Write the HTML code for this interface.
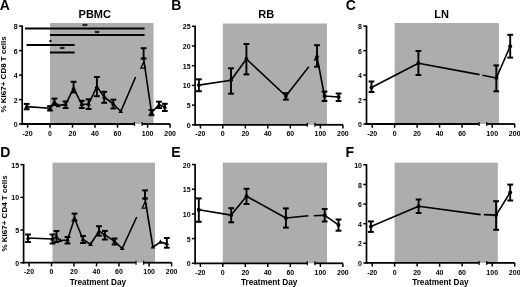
<!DOCTYPE html>
<html><head><meta charset="utf-8"><style>
html,body{margin:0;padding:0;background:#fff;}
body{width:520px;height:287px;overflow:hidden;}
svg{display:block;font-family:"Liberation Sans", sans-serif;will-change:transform;}
</style></head><body>
<svg width="520" height="287" viewBox="0 0 520 287">
<rect x="50.00" y="23.00" width="103.50" height="101.00" fill="#adadad"/>
<line x1="22.20" y1="25.50" x2="22.20" y2="124.90" stroke="#000" stroke-width="1.7"/>
<line x1="19.00" y1="124.00" x2="22.20" y2="124.00" stroke="#000" stroke-width="1.5"/>
<text x="17.70" y="127.00" font-size="7" text-anchor="end" font-weight="bold" >0</text>
<line x1="19.00" y1="99.60" x2="22.20" y2="99.60" stroke="#000" stroke-width="1.5"/>
<text x="17.70" y="102.60" font-size="7" text-anchor="end" font-weight="bold" >2</text>
<line x1="19.00" y1="75.10" x2="22.20" y2="75.10" stroke="#000" stroke-width="1.5"/>
<text x="17.70" y="78.10" font-size="7" text-anchor="end" font-weight="bold" >4</text>
<line x1="19.00" y1="50.60" x2="22.20" y2="50.60" stroke="#000" stroke-width="1.5"/>
<text x="17.70" y="53.60" font-size="7" text-anchor="end" font-weight="bold" >6</text>
<line x1="19.00" y1="26.10" x2="22.20" y2="26.10" stroke="#000" stroke-width="1.5"/>
<text x="17.70" y="29.10" font-size="7" text-anchor="end" font-weight="bold" >8</text>
<line x1="21.35" y1="124.00" x2="134.50" y2="124.00" stroke="#000" stroke-width="1.8"/>
<line x1="142.10" y1="124.00" x2="170.20" y2="124.00" stroke="#000" stroke-width="1.8"/>
<line x1="134.50" y1="122.00" x2="134.50" y2="126.00" stroke="#000" stroke-width="1.2"/>
<line x1="142.10" y1="122.00" x2="142.10" y2="126.00" stroke="#000" stroke-width="1.2"/>
<line x1="27.60" y1="124.00" x2="27.60" y2="127.70" stroke="#000" stroke-width="1.5"/>
<text x="27.60" y="135.60" font-size="7" text-anchor="middle" font-weight="bold" >-20</text>
<line x1="50.00" y1="124.00" x2="50.00" y2="127.70" stroke="#000" stroke-width="1.5"/>
<text x="50.00" y="135.60" font-size="7" text-anchor="middle" font-weight="bold" >0</text>
<line x1="72.50" y1="124.00" x2="72.50" y2="127.70" stroke="#000" stroke-width="1.5"/>
<text x="72.50" y="135.60" font-size="7" text-anchor="middle" font-weight="bold" >20</text>
<line x1="95.00" y1="124.00" x2="95.00" y2="127.70" stroke="#000" stroke-width="1.5"/>
<text x="95.00" y="135.60" font-size="7" text-anchor="middle" font-weight="bold" >40</text>
<line x1="117.50" y1="124.00" x2="117.50" y2="127.70" stroke="#000" stroke-width="1.5"/>
<text x="117.50" y="135.60" font-size="7" text-anchor="middle" font-weight="bold" >60</text>
<line x1="147.60" y1="124.00" x2="147.60" y2="127.70" stroke="#000" stroke-width="1.5"/>
<text x="147.60" y="135.60" font-size="7" text-anchor="middle" font-weight="bold" >100</text>
<line x1="170.10" y1="124.00" x2="170.10" y2="127.70" stroke="#000" stroke-width="1.5"/>
<text x="170.10" y="135.60" font-size="7" text-anchor="middle" font-weight="bold" >200</text>
<path d="M26.70,106.60 L50.00,108.30 L54.40,102.00 L58.00,105.60 L65.60,104.40 L73.60,88.30 L81.80,104.40 L88.60,104.00 L96.90,86.60 L104.20,97.00 L113.30,104.00 L120.80,111.50 L135.60,77.00" fill="none" stroke="#000" stroke-width="1.6" stroke-linejoin="round"/>
<path d="M143.60,58.60 L151.50,112.50 L159.00,104.80 L164.80,107.00" fill="none" stroke="#000" stroke-width="1.6" stroke-linejoin="round"/>
<line x1="26.70" y1="103.90" x2="26.70" y2="109.30" stroke="#000" stroke-width="1.9"/>
<line x1="23.80" y1="103.90" x2="29.60" y2="103.90" stroke="#000" stroke-width="2.0"/>
<line x1="23.80" y1="109.30" x2="29.60" y2="109.30" stroke="#000" stroke-width="2.0"/>
<path d="M26.70,104.00 L29.10,108.20 L24.30,108.20Z" fill="#000"/>
<line x1="50.00" y1="106.20" x2="50.00" y2="110.50" stroke="#000" stroke-width="1.9"/>
<line x1="47.10" y1="106.20" x2="52.90" y2="106.20" stroke="#000" stroke-width="2.0"/>
<line x1="47.10" y1="110.50" x2="52.90" y2="110.50" stroke="#000" stroke-width="2.0"/>
<path d="M50.00,105.70 L52.40,109.90 L47.60,109.90Z" fill="#000"/>
<line x1="54.40" y1="98.60" x2="54.40" y2="105.00" stroke="#000" stroke-width="1.9"/>
<line x1="51.50" y1="98.60" x2="57.30" y2="98.60" stroke="#000" stroke-width="2.0"/>
<line x1="51.50" y1="105.00" x2="57.30" y2="105.00" stroke="#000" stroke-width="2.0"/>
<path d="M54.40,99.40 L56.80,103.60 L52.00,103.60Z" fill="#000"/>
<path d="M58.00,103.00 L60.40,107.20 L55.60,107.20Z" fill="#000"/>
<line x1="65.60" y1="101.40" x2="65.60" y2="108.00" stroke="#000" stroke-width="1.9"/>
<line x1="62.70" y1="101.40" x2="68.50" y2="101.40" stroke="#000" stroke-width="2.0"/>
<line x1="62.70" y1="108.00" x2="68.50" y2="108.00" stroke="#000" stroke-width="2.0"/>
<path d="M65.60,101.80 L68.00,106.00 L63.20,106.00Z" fill="#000"/>
<line x1="73.60" y1="81.80" x2="73.60" y2="92.40" stroke="#000" stroke-width="1.9"/>
<line x1="70.70" y1="81.80" x2="76.50" y2="81.80" stroke="#000" stroke-width="2.0"/>
<line x1="70.70" y1="92.40" x2="76.50" y2="92.40" stroke="#000" stroke-width="2.0"/>
<path d="M73.60,85.70 L76.00,89.90 L71.20,89.90Z" fill="#000"/>
<line x1="81.80" y1="100.80" x2="81.80" y2="108.00" stroke="#000" stroke-width="1.9"/>
<line x1="78.90" y1="100.80" x2="84.70" y2="100.80" stroke="#000" stroke-width="2.0"/>
<line x1="78.90" y1="108.00" x2="84.70" y2="108.00" stroke="#000" stroke-width="2.0"/>
<path d="M81.80,101.80 L84.20,106.00 L79.40,106.00Z" fill="#000"/>
<line x1="88.60" y1="99.30" x2="88.60" y2="109.00" stroke="#000" stroke-width="1.9"/>
<line x1="85.70" y1="99.30" x2="91.50" y2="99.30" stroke="#000" stroke-width="2.0"/>
<line x1="85.70" y1="109.00" x2="91.50" y2="109.00" stroke="#000" stroke-width="2.0"/>
<path d="M88.60,101.40 L91.00,105.60 L86.20,105.60Z" fill="#000"/>
<line x1="96.90" y1="77.00" x2="96.90" y2="96.20" stroke="#000" stroke-width="1.9"/>
<line x1="94.00" y1="77.00" x2="99.80" y2="77.00" stroke="#000" stroke-width="2.0"/>
<line x1="94.00" y1="96.20" x2="99.80" y2="96.20" stroke="#000" stroke-width="2.0"/>
<path d="M96.90,84.00 L99.30,88.20 L94.50,88.20Z" fill="#000"/>
<line x1="104.20" y1="91.80" x2="104.20" y2="102.80" stroke="#000" stroke-width="1.9"/>
<line x1="101.30" y1="91.80" x2="107.10" y2="91.80" stroke="#000" stroke-width="2.0"/>
<line x1="101.30" y1="102.80" x2="107.10" y2="102.80" stroke="#000" stroke-width="2.0"/>
<path d="M104.20,94.40 L106.60,98.60 L101.80,98.60Z" fill="#000"/>
<line x1="113.30" y1="99.70" x2="113.30" y2="108.40" stroke="#000" stroke-width="1.9"/>
<line x1="110.40" y1="99.70" x2="116.20" y2="99.70" stroke="#000" stroke-width="2.0"/>
<line x1="110.40" y1="108.40" x2="116.20" y2="108.40" stroke="#000" stroke-width="2.0"/>
<path d="M113.30,101.40 L115.70,105.60 L110.90,105.60Z" fill="#000"/>
<path d="M120.80,108.90 L123.20,113.10 L118.40,113.10Z" fill="#000"/>
<line x1="143.60" y1="48.20" x2="143.60" y2="58.60" stroke="#000" stroke-width="1.9"/>
<line x1="140.70" y1="48.20" x2="146.50" y2="48.20" stroke="#000" stroke-width="2.0"/>
<line x1="140.70" y1="58.60" x2="146.50" y2="58.60" stroke="#000" stroke-width="2.0"/>
<circle cx="143.60" cy="58.60" r="1.8" fill="#000"/>
<path d="M143.60,62.20 L145.40,68.20 L140.80,68.20Z" fill="none" stroke="#000" stroke-width="1.3"/>
<line x1="151.50" y1="110.00" x2="151.50" y2="115.20" stroke="#000" stroke-width="1.9"/>
<line x1="148.60" y1="110.00" x2="154.40" y2="110.00" stroke="#000" stroke-width="2.0"/>
<line x1="148.60" y1="115.20" x2="154.40" y2="115.20" stroke="#000" stroke-width="2.0"/>
<path d="M151.50,109.90 L153.90,114.10 L149.10,114.10Z" fill="#000"/>
<line x1="159.00" y1="101.70" x2="159.00" y2="108.00" stroke="#000" stroke-width="1.9"/>
<line x1="156.10" y1="101.70" x2="161.90" y2="101.70" stroke="#000" stroke-width="2.0"/>
<line x1="156.10" y1="108.00" x2="161.90" y2="108.00" stroke="#000" stroke-width="2.0"/>
<path d="M159.00,102.20 L161.40,106.40 L156.60,106.40Z" fill="#000"/>
<line x1="164.80" y1="103.80" x2="164.80" y2="111.00" stroke="#000" stroke-width="1.9"/>
<line x1="161.90" y1="103.80" x2="167.70" y2="103.80" stroke="#000" stroke-width="2.0"/>
<line x1="161.90" y1="111.00" x2="167.70" y2="111.00" stroke="#000" stroke-width="2.0"/>
<path d="M164.80,104.40 L167.20,108.60 L162.40,108.60Z" fill="#000"/>
<rect x="222.80" y="23.50" width="104.10" height="101.30" fill="#adadad"/>
<line x1="195.10" y1="25.70" x2="195.10" y2="125.70" stroke="#000" stroke-width="1.7"/>
<line x1="191.90" y1="124.80" x2="195.10" y2="124.80" stroke="#000" stroke-width="1.5"/>
<text x="190.60" y="127.80" font-size="7" text-anchor="end" font-weight="bold" >0</text>
<line x1="191.90" y1="105.10" x2="195.10" y2="105.10" stroke="#000" stroke-width="1.5"/>
<text x="190.60" y="108.10" font-size="7" text-anchor="end" font-weight="bold" >5</text>
<line x1="191.90" y1="85.40" x2="195.10" y2="85.40" stroke="#000" stroke-width="1.5"/>
<text x="190.60" y="88.40" font-size="7" text-anchor="end" font-weight="bold" >10</text>
<line x1="191.90" y1="65.70" x2="195.10" y2="65.70" stroke="#000" stroke-width="1.5"/>
<text x="190.60" y="68.70" font-size="7" text-anchor="end" font-weight="bold" >15</text>
<line x1="191.90" y1="46.00" x2="195.10" y2="46.00" stroke="#000" stroke-width="1.5"/>
<text x="190.60" y="49.00" font-size="7" text-anchor="end" font-weight="bold" >20</text>
<line x1="191.90" y1="26.30" x2="195.10" y2="26.30" stroke="#000" stroke-width="1.5"/>
<text x="190.60" y="29.30" font-size="7" text-anchor="end" font-weight="bold" >25</text>
<line x1="194.25" y1="124.80" x2="307.30" y2="124.80" stroke="#000" stroke-width="1.8"/>
<line x1="314.90" y1="124.80" x2="343.00" y2="124.80" stroke="#000" stroke-width="1.8"/>
<line x1="307.30" y1="122.80" x2="307.30" y2="126.80" stroke="#000" stroke-width="1.2"/>
<line x1="314.90" y1="122.80" x2="314.90" y2="126.80" stroke="#000" stroke-width="1.2"/>
<line x1="200.40" y1="124.80" x2="200.40" y2="128.50" stroke="#000" stroke-width="1.5"/>
<text x="200.40" y="136.40" font-size="7" text-anchor="middle" font-weight="bold" >-20</text>
<line x1="222.80" y1="124.80" x2="222.80" y2="128.50" stroke="#000" stroke-width="1.5"/>
<text x="222.80" y="136.40" font-size="7" text-anchor="middle" font-weight="bold" >0</text>
<line x1="245.30" y1="124.80" x2="245.30" y2="128.50" stroke="#000" stroke-width="1.5"/>
<text x="245.30" y="136.40" font-size="7" text-anchor="middle" font-weight="bold" >20</text>
<line x1="267.80" y1="124.80" x2="267.80" y2="128.50" stroke="#000" stroke-width="1.5"/>
<text x="267.80" y="136.40" font-size="7" text-anchor="middle" font-weight="bold" >40</text>
<line x1="290.30" y1="124.80" x2="290.30" y2="128.50" stroke="#000" stroke-width="1.5"/>
<text x="290.30" y="136.40" font-size="7" text-anchor="middle" font-weight="bold" >60</text>
<line x1="320.40" y1="124.80" x2="320.40" y2="128.50" stroke="#000" stroke-width="1.5"/>
<text x="320.40" y="136.40" font-size="7" text-anchor="middle" font-weight="bold" >100</text>
<line x1="342.90" y1="124.80" x2="342.90" y2="128.50" stroke="#000" stroke-width="1.5"/>
<text x="342.90" y="136.40" font-size="7" text-anchor="middle" font-weight="bold" >200</text>
<path d="M198.90,85.10 L231.00,80.20 L246.40,59.00 L285.90,96.00 L308.80,66.70" fill="none" stroke="#000" stroke-width="1.6" stroke-linejoin="round"/>
<path d="M314.30,60.50 L317.00,57.00 L324.50,96.00 L338.60,97.00" fill="none" stroke="#000" stroke-width="1.6" stroke-linejoin="round"/>
<line x1="198.90" y1="79.30" x2="198.90" y2="91.20" stroke="#000" stroke-width="1.9"/>
<line x1="196.00" y1="79.30" x2="201.80" y2="79.30" stroke="#000" stroke-width="2.0"/>
<line x1="196.00" y1="91.20" x2="201.80" y2="91.20" stroke="#000" stroke-width="2.0"/>
<circle cx="198.90" cy="85.10" r="1.95" fill="#000"/>
<line x1="231.00" y1="68.30" x2="231.00" y2="93.70" stroke="#000" stroke-width="1.9"/>
<line x1="228.10" y1="68.30" x2="233.90" y2="68.30" stroke="#000" stroke-width="2.0"/>
<line x1="228.10" y1="93.70" x2="233.90" y2="93.70" stroke="#000" stroke-width="2.0"/>
<circle cx="231.00" cy="80.20" r="1.95" fill="#000"/>
<line x1="246.40" y1="44.00" x2="246.40" y2="74.40" stroke="#000" stroke-width="1.9"/>
<line x1="243.50" y1="44.00" x2="249.30" y2="44.00" stroke="#000" stroke-width="2.0"/>
<line x1="243.50" y1="74.40" x2="249.30" y2="74.40" stroke="#000" stroke-width="2.0"/>
<circle cx="246.40" cy="59.00" r="1.95" fill="#000"/>
<line x1="285.90" y1="93.20" x2="285.90" y2="99.60" stroke="#000" stroke-width="1.9"/>
<line x1="283.00" y1="93.20" x2="288.80" y2="93.20" stroke="#000" stroke-width="2.0"/>
<line x1="283.00" y1="99.60" x2="288.80" y2="99.60" stroke="#000" stroke-width="2.0"/>
<circle cx="285.90" cy="96.00" r="1.95" fill="#000"/>
<line x1="317.00" y1="45.20" x2="317.00" y2="66.70" stroke="#000" stroke-width="1.9"/>
<line x1="314.10" y1="45.20" x2="319.90" y2="45.20" stroke="#000" stroke-width="2.0"/>
<line x1="314.10" y1="66.70" x2="319.90" y2="66.70" stroke="#000" stroke-width="2.0"/>
<circle cx="317.00" cy="57.00" r="1.95" fill="#000"/>
<line x1="324.50" y1="91.60" x2="324.50" y2="101.00" stroke="#000" stroke-width="1.9"/>
<line x1="321.60" y1="91.60" x2="327.40" y2="91.60" stroke="#000" stroke-width="2.0"/>
<line x1="321.60" y1="101.00" x2="327.40" y2="101.00" stroke="#000" stroke-width="2.0"/>
<circle cx="324.50" cy="96.00" r="1.95" fill="#000"/>
<line x1="338.60" y1="93.50" x2="338.60" y2="101.00" stroke="#000" stroke-width="1.9"/>
<line x1="335.70" y1="93.50" x2="341.50" y2="93.50" stroke="#000" stroke-width="2.0"/>
<line x1="335.70" y1="101.00" x2="341.50" y2="101.00" stroke="#000" stroke-width="2.0"/>
<circle cx="338.60" cy="97.00" r="1.95" fill="#000"/>
<rect x="394.60" y="23.00" width="104.30" height="101.00" fill="#adadad"/>
<line x1="366.50" y1="25.50" x2="366.50" y2="124.90" stroke="#000" stroke-width="1.7"/>
<line x1="363.30" y1="124.00" x2="366.50" y2="124.00" stroke="#000" stroke-width="1.5"/>
<text x="362.00" y="127.00" font-size="7" text-anchor="end" font-weight="bold" >0</text>
<line x1="363.30" y1="99.60" x2="366.50" y2="99.60" stroke="#000" stroke-width="1.5"/>
<text x="362.00" y="102.60" font-size="7" text-anchor="end" font-weight="bold" >2</text>
<line x1="363.30" y1="75.10" x2="366.50" y2="75.10" stroke="#000" stroke-width="1.5"/>
<text x="362.00" y="78.10" font-size="7" text-anchor="end" font-weight="bold" >4</text>
<line x1="363.30" y1="50.60" x2="366.50" y2="50.60" stroke="#000" stroke-width="1.5"/>
<text x="362.00" y="53.60" font-size="7" text-anchor="end" font-weight="bold" >6</text>
<line x1="363.30" y1="26.10" x2="366.50" y2="26.10" stroke="#000" stroke-width="1.5"/>
<text x="362.00" y="29.10" font-size="7" text-anchor="end" font-weight="bold" >8</text>
<line x1="365.65" y1="124.00" x2="479.10" y2="124.00" stroke="#000" stroke-width="1.8"/>
<line x1="486.70" y1="124.00" x2="514.80" y2="124.00" stroke="#000" stroke-width="1.8"/>
<line x1="479.10" y1="122.00" x2="479.10" y2="126.00" stroke="#000" stroke-width="1.2"/>
<line x1="486.70" y1="122.00" x2="486.70" y2="126.00" stroke="#000" stroke-width="1.2"/>
<line x1="372.20" y1="124.00" x2="372.20" y2="127.70" stroke="#000" stroke-width="1.5"/>
<text x="372.20" y="135.60" font-size="7" text-anchor="middle" font-weight="bold" >-20</text>
<line x1="394.60" y1="124.00" x2="394.60" y2="127.70" stroke="#000" stroke-width="1.5"/>
<text x="394.60" y="135.60" font-size="7" text-anchor="middle" font-weight="bold" >0</text>
<line x1="417.10" y1="124.00" x2="417.10" y2="127.70" stroke="#000" stroke-width="1.5"/>
<text x="417.10" y="135.60" font-size="7" text-anchor="middle" font-weight="bold" >20</text>
<line x1="439.60" y1="124.00" x2="439.60" y2="127.70" stroke="#000" stroke-width="1.5"/>
<text x="439.60" y="135.60" font-size="7" text-anchor="middle" font-weight="bold" >40</text>
<line x1="462.10" y1="124.00" x2="462.10" y2="127.70" stroke="#000" stroke-width="1.5"/>
<text x="462.10" y="135.60" font-size="7" text-anchor="middle" font-weight="bold" >60</text>
<line x1="492.20" y1="124.00" x2="492.20" y2="127.70" stroke="#000" stroke-width="1.5"/>
<text x="492.20" y="135.60" font-size="7" text-anchor="middle" font-weight="bold" >100</text>
<line x1="514.70" y1="124.00" x2="514.70" y2="127.70" stroke="#000" stroke-width="1.5"/>
<text x="514.70" y="135.60" font-size="7" text-anchor="middle" font-weight="bold" >200</text>
<path d="M371.50,87.50 L418.40,63.30 L479.60,74.60" fill="none" stroke="#000" stroke-width="1.6" stroke-linejoin="round"/>
<path d="M482.40,75.20 L496.30,78.00 L510.20,46.20" fill="none" stroke="#000" stroke-width="1.6" stroke-linejoin="round"/>
<line x1="371.50" y1="81.50" x2="371.50" y2="92.00" stroke="#000" stroke-width="1.9"/>
<line x1="368.60" y1="81.50" x2="374.40" y2="81.50" stroke="#000" stroke-width="2.0"/>
<line x1="368.60" y1="92.00" x2="374.40" y2="92.00" stroke="#000" stroke-width="2.0"/>
<circle cx="371.50" cy="87.50" r="1.95" fill="#000"/>
<line x1="418.40" y1="51.00" x2="418.40" y2="75.00" stroke="#000" stroke-width="1.9"/>
<line x1="415.50" y1="51.00" x2="421.30" y2="51.00" stroke="#000" stroke-width="2.0"/>
<line x1="415.50" y1="75.00" x2="421.30" y2="75.00" stroke="#000" stroke-width="2.0"/>
<circle cx="418.40" cy="63.30" r="1.95" fill="#000"/>
<line x1="496.30" y1="65.40" x2="496.30" y2="91.30" stroke="#000" stroke-width="1.9"/>
<line x1="493.40" y1="65.40" x2="499.20" y2="65.40" stroke="#000" stroke-width="2.0"/>
<line x1="493.40" y1="91.30" x2="499.20" y2="91.30" stroke="#000" stroke-width="2.0"/>
<circle cx="496.30" cy="78.00" r="1.95" fill="#000"/>
<line x1="510.20" y1="34.80" x2="510.20" y2="57.60" stroke="#000" stroke-width="1.9"/>
<line x1="507.30" y1="34.80" x2="513.10" y2="34.80" stroke="#000" stroke-width="2.0"/>
<line x1="507.30" y1="57.60" x2="513.10" y2="57.60" stroke="#000" stroke-width="2.0"/>
<circle cx="510.20" cy="46.20" r="1.95" fill="#000"/>
<rect x="52.50" y="162.70" width="102.50" height="100.00" fill="#adadad"/>
<line x1="23.60" y1="164.00" x2="23.60" y2="263.60" stroke="#000" stroke-width="1.7"/>
<line x1="20.40" y1="262.70" x2="23.60" y2="262.70" stroke="#000" stroke-width="1.5"/>
<text x="19.10" y="265.70" font-size="7" text-anchor="end" font-weight="bold" >0</text>
<line x1="20.40" y1="230.00" x2="23.60" y2="230.00" stroke="#000" stroke-width="1.5"/>
<text x="19.10" y="233.00" font-size="7" text-anchor="end" font-weight="bold" >5</text>
<line x1="20.40" y1="197.40" x2="23.60" y2="197.40" stroke="#000" stroke-width="1.5"/>
<text x="19.10" y="200.40" font-size="7" text-anchor="end" font-weight="bold" >10</text>
<line x1="20.40" y1="164.60" x2="23.60" y2="164.60" stroke="#000" stroke-width="1.5"/>
<text x="19.10" y="167.60" font-size="7" text-anchor="end" font-weight="bold" >15</text>
<line x1="22.75" y1="262.70" x2="136.00" y2="262.70" stroke="#000" stroke-width="1.8"/>
<line x1="143.60" y1="262.70" x2="171.70" y2="262.70" stroke="#000" stroke-width="1.8"/>
<line x1="136.00" y1="260.70" x2="136.00" y2="264.70" stroke="#000" stroke-width="1.2"/>
<line x1="143.60" y1="260.70" x2="143.60" y2="264.70" stroke="#000" stroke-width="1.2"/>
<line x1="29.10" y1="262.70" x2="29.10" y2="266.40" stroke="#000" stroke-width="1.5"/>
<text x="29.10" y="274.30" font-size="7" text-anchor="middle" font-weight="bold" >-20</text>
<line x1="51.50" y1="262.70" x2="51.50" y2="266.40" stroke="#000" stroke-width="1.5"/>
<text x="51.50" y="274.30" font-size="7" text-anchor="middle" font-weight="bold" >0</text>
<line x1="74.00" y1="262.70" x2="74.00" y2="266.40" stroke="#000" stroke-width="1.5"/>
<text x="74.00" y="274.30" font-size="7" text-anchor="middle" font-weight="bold" >20</text>
<line x1="96.50" y1="262.70" x2="96.50" y2="266.40" stroke="#000" stroke-width="1.5"/>
<text x="96.50" y="274.30" font-size="7" text-anchor="middle" font-weight="bold" >40</text>
<line x1="119.00" y1="262.70" x2="119.00" y2="266.40" stroke="#000" stroke-width="1.5"/>
<text x="119.00" y="274.30" font-size="7" text-anchor="middle" font-weight="bold" >60</text>
<line x1="149.10" y1="262.70" x2="149.10" y2="266.40" stroke="#000" stroke-width="1.5"/>
<text x="149.10" y="274.30" font-size="7" text-anchor="middle" font-weight="bold" >100</text>
<line x1="171.60" y1="262.70" x2="171.60" y2="266.40" stroke="#000" stroke-width="1.5"/>
<text x="171.60" y="274.30" font-size="7" text-anchor="middle" font-weight="bold" >200</text>
<path d="M28.00,238.00 L52.50,239.00 L56.50,237.00 L60.00,240.50 L67.50,240.00 L74.50,218.30 L83.00,239.50 L90.50,244.30 L99.00,231.30 L104.90,234.80 L114.60,241.40 L122.20,248.50 L136.70,217.00" fill="none" stroke="#000" stroke-width="1.6" stroke-linejoin="round"/>
<path d="M145.00,198.50 L152.90,247.00 L160.40,242.10 L166.80,243.50" fill="none" stroke="#000" stroke-width="1.6" stroke-linejoin="round"/>
<line x1="28.00" y1="234.50" x2="28.00" y2="242.00" stroke="#000" stroke-width="1.9"/>
<line x1="25.10" y1="234.50" x2="30.90" y2="234.50" stroke="#000" stroke-width="2.0"/>
<line x1="25.10" y1="242.00" x2="30.90" y2="242.00" stroke="#000" stroke-width="2.0"/>
<path d="M28.00,235.40 L30.40,239.60 L25.60,239.60Z" fill="#000"/>
<line x1="52.50" y1="234.50" x2="52.50" y2="243.50" stroke="#000" stroke-width="1.9"/>
<line x1="49.60" y1="234.50" x2="55.40" y2="234.50" stroke="#000" stroke-width="2.0"/>
<line x1="49.60" y1="243.50" x2="55.40" y2="243.50" stroke="#000" stroke-width="2.0"/>
<path d="M52.50,236.40 L54.90,240.60 L50.10,240.60Z" fill="#000"/>
<line x1="56.50" y1="231.00" x2="56.50" y2="242.00" stroke="#000" stroke-width="1.9"/>
<line x1="53.60" y1="231.00" x2="59.40" y2="231.00" stroke="#000" stroke-width="2.0"/>
<line x1="53.60" y1="242.00" x2="59.40" y2="242.00" stroke="#000" stroke-width="2.0"/>
<path d="M56.50,234.40 L58.90,238.60 L54.10,238.60Z" fill="#000"/>
<path d="M60.00,237.90 L62.40,242.10 L57.60,242.10Z" fill="#000"/>
<line x1="67.50" y1="237.00" x2="67.50" y2="243.50" stroke="#000" stroke-width="1.9"/>
<line x1="64.60" y1="237.00" x2="70.40" y2="237.00" stroke="#000" stroke-width="2.0"/>
<line x1="64.60" y1="243.50" x2="70.40" y2="243.50" stroke="#000" stroke-width="2.0"/>
<path d="M67.50,237.40 L69.90,241.60 L65.10,241.60Z" fill="#000"/>
<line x1="74.50" y1="213.60" x2="74.50" y2="220.70" stroke="#000" stroke-width="1.9"/>
<line x1="71.60" y1="213.60" x2="77.40" y2="213.60" stroke="#000" stroke-width="2.0"/>
<line x1="71.60" y1="220.70" x2="77.40" y2="220.70" stroke="#000" stroke-width="2.0"/>
<path d="M74.50,215.70 L76.90,219.90 L72.10,219.90Z" fill="#000"/>
<line x1="83.00" y1="236.00" x2="83.00" y2="243.00" stroke="#000" stroke-width="1.9"/>
<line x1="80.10" y1="236.00" x2="85.90" y2="236.00" stroke="#000" stroke-width="2.0"/>
<line x1="80.10" y1="243.00" x2="85.90" y2="243.00" stroke="#000" stroke-width="2.0"/>
<path d="M83.00,236.90 L85.40,241.10 L80.60,241.10Z" fill="#000"/>
<path d="M90.50,241.70 L92.90,245.90 L88.10,245.90Z" fill="#000"/>
<line x1="99.00" y1="226.20" x2="99.00" y2="235.60" stroke="#000" stroke-width="1.9"/>
<line x1="96.10" y1="226.20" x2="101.90" y2="226.20" stroke="#000" stroke-width="2.0"/>
<line x1="96.10" y1="235.60" x2="101.90" y2="235.60" stroke="#000" stroke-width="2.0"/>
<path d="M99.00,228.70 L101.40,232.90 L96.60,232.90Z" fill="#000"/>
<line x1="104.90" y1="230.90" x2="104.90" y2="239.50" stroke="#000" stroke-width="1.9"/>
<line x1="102.00" y1="230.90" x2="107.80" y2="230.90" stroke="#000" stroke-width="2.0"/>
<line x1="102.00" y1="239.50" x2="107.80" y2="239.50" stroke="#000" stroke-width="2.0"/>
<path d="M104.90,232.20 L107.30,236.40 L102.50,236.40Z" fill="#000"/>
<line x1="114.60" y1="238.50" x2="114.60" y2="244.50" stroke="#000" stroke-width="1.9"/>
<line x1="111.70" y1="238.50" x2="117.50" y2="238.50" stroke="#000" stroke-width="2.0"/>
<line x1="111.70" y1="244.50" x2="117.50" y2="244.50" stroke="#000" stroke-width="2.0"/>
<path d="M114.60,238.80 L117.00,243.00 L112.20,243.00Z" fill="#000"/>
<path d="M122.20,245.90 L124.60,250.10 L119.80,250.10Z" fill="#000"/>
<line x1="145.00" y1="190.40" x2="145.00" y2="198.50" stroke="#000" stroke-width="1.9"/>
<line x1="142.10" y1="190.40" x2="147.90" y2="190.40" stroke="#000" stroke-width="2.0"/>
<line x1="142.10" y1="198.50" x2="147.90" y2="198.50" stroke="#000" stroke-width="2.0"/>
<circle cx="145.00" cy="198.50" r="1.8" fill="#000"/>
<path d="M145.00,202.10 L146.80,208.10 L142.20,208.10Z" fill="none" stroke="#000" stroke-width="1.3"/>
<path d="M152.90,244.40 L155.30,248.60 L150.50,248.60Z" fill="#000"/>
<path d="M160.40,239.50 L162.80,243.70 L158.00,243.70Z" fill="#000"/>
<line x1="166.80" y1="238.00" x2="166.80" y2="247.70" stroke="#000" stroke-width="1.9"/>
<line x1="163.90" y1="238.00" x2="169.70" y2="238.00" stroke="#000" stroke-width="2.0"/>
<line x1="163.90" y1="247.70" x2="169.70" y2="247.70" stroke="#000" stroke-width="2.0"/>
<path d="M166.80,240.90 L169.20,245.10 L164.40,245.10Z" fill="#000"/>
<rect x="222.80" y="162.60" width="104.20" height="100.70" fill="#adadad"/>
<line x1="195.10" y1="163.90" x2="195.10" y2="264.20" stroke="#000" stroke-width="1.7"/>
<line x1="191.90" y1="263.30" x2="195.10" y2="263.30" stroke="#000" stroke-width="1.5"/>
<text x="190.60" y="266.30" font-size="7" text-anchor="end" font-weight="bold" >0</text>
<line x1="191.90" y1="238.60" x2="195.10" y2="238.60" stroke="#000" stroke-width="1.5"/>
<text x="190.60" y="241.60" font-size="7" text-anchor="end" font-weight="bold" >5</text>
<line x1="191.90" y1="213.90" x2="195.10" y2="213.90" stroke="#000" stroke-width="1.5"/>
<text x="190.60" y="216.90" font-size="7" text-anchor="end" font-weight="bold" >10</text>
<line x1="191.90" y1="189.20" x2="195.10" y2="189.20" stroke="#000" stroke-width="1.5"/>
<text x="190.60" y="192.20" font-size="7" text-anchor="end" font-weight="bold" >15</text>
<line x1="191.90" y1="164.50" x2="195.10" y2="164.50" stroke="#000" stroke-width="1.5"/>
<text x="190.60" y="167.50" font-size="7" text-anchor="end" font-weight="bold" >20</text>
<line x1="194.25" y1="263.30" x2="307.30" y2="263.30" stroke="#000" stroke-width="1.8"/>
<line x1="314.90" y1="263.30" x2="343.00" y2="263.30" stroke="#000" stroke-width="1.8"/>
<line x1="307.30" y1="261.30" x2="307.30" y2="265.30" stroke="#000" stroke-width="1.2"/>
<line x1="314.90" y1="261.30" x2="314.90" y2="265.30" stroke="#000" stroke-width="1.2"/>
<line x1="200.40" y1="263.30" x2="200.40" y2="267.00" stroke="#000" stroke-width="1.5"/>
<text x="200.40" y="274.90" font-size="7" text-anchor="middle" font-weight="bold" >-20</text>
<line x1="222.80" y1="263.30" x2="222.80" y2="267.00" stroke="#000" stroke-width="1.5"/>
<text x="222.80" y="274.90" font-size="7" text-anchor="middle" font-weight="bold" >0</text>
<line x1="245.30" y1="263.30" x2="245.30" y2="267.00" stroke="#000" stroke-width="1.5"/>
<text x="245.30" y="274.90" font-size="7" text-anchor="middle" font-weight="bold" >20</text>
<line x1="267.80" y1="263.30" x2="267.80" y2="267.00" stroke="#000" stroke-width="1.5"/>
<text x="267.80" y="274.90" font-size="7" text-anchor="middle" font-weight="bold" >40</text>
<line x1="290.30" y1="263.30" x2="290.30" y2="267.00" stroke="#000" stroke-width="1.5"/>
<text x="290.30" y="274.90" font-size="7" text-anchor="middle" font-weight="bold" >60</text>
<line x1="320.40" y1="263.30" x2="320.40" y2="267.00" stroke="#000" stroke-width="1.5"/>
<text x="320.40" y="274.90" font-size="7" text-anchor="middle" font-weight="bold" >100</text>
<line x1="342.90" y1="263.30" x2="342.90" y2="267.00" stroke="#000" stroke-width="1.5"/>
<text x="342.90" y="274.90" font-size="7" text-anchor="middle" font-weight="bold" >200</text>
<path d="M198.80,209.70 L231.20,215.10 L246.50,196.30 L285.90,218.00 L308.40,215.70" fill="none" stroke="#000" stroke-width="1.6" stroke-linejoin="round"/>
<path d="M313.80,215.70 L324.70,215.30 L338.50,224.90" fill="none" stroke="#000" stroke-width="1.6" stroke-linejoin="round"/>
<line x1="198.80" y1="198.40" x2="198.80" y2="221.80" stroke="#000" stroke-width="1.9"/>
<line x1="195.90" y1="198.40" x2="201.70" y2="198.40" stroke="#000" stroke-width="2.0"/>
<line x1="195.90" y1="221.80" x2="201.70" y2="221.80" stroke="#000" stroke-width="2.0"/>
<circle cx="198.80" cy="209.70" r="1.95" fill="#000"/>
<line x1="231.20" y1="208.20" x2="231.20" y2="222.30" stroke="#000" stroke-width="1.9"/>
<line x1="228.30" y1="208.20" x2="234.10" y2="208.20" stroke="#000" stroke-width="2.0"/>
<line x1="228.30" y1="222.30" x2="234.10" y2="222.30" stroke="#000" stroke-width="2.0"/>
<circle cx="231.20" cy="215.10" r="1.95" fill="#000"/>
<line x1="246.50" y1="188.80" x2="246.50" y2="204.00" stroke="#000" stroke-width="1.9"/>
<line x1="243.60" y1="188.80" x2="249.40" y2="188.80" stroke="#000" stroke-width="2.0"/>
<line x1="243.60" y1="204.00" x2="249.40" y2="204.00" stroke="#000" stroke-width="2.0"/>
<circle cx="246.50" cy="196.30" r="1.95" fill="#000"/>
<line x1="285.90" y1="208.40" x2="285.90" y2="227.60" stroke="#000" stroke-width="1.9"/>
<line x1="283.00" y1="208.40" x2="288.80" y2="208.40" stroke="#000" stroke-width="2.0"/>
<line x1="283.00" y1="227.60" x2="288.80" y2="227.60" stroke="#000" stroke-width="2.0"/>
<circle cx="285.90" cy="218.00" r="1.95" fill="#000"/>
<line x1="324.70" y1="209.00" x2="324.70" y2="221.50" stroke="#000" stroke-width="1.9"/>
<line x1="321.80" y1="209.00" x2="327.60" y2="209.00" stroke="#000" stroke-width="2.0"/>
<line x1="321.80" y1="221.50" x2="327.60" y2="221.50" stroke="#000" stroke-width="2.0"/>
<circle cx="324.70" cy="215.30" r="1.95" fill="#000"/>
<line x1="338.50" y1="219.50" x2="338.50" y2="230.70" stroke="#000" stroke-width="1.9"/>
<line x1="335.60" y1="219.50" x2="341.40" y2="219.50" stroke="#000" stroke-width="2.0"/>
<line x1="335.60" y1="230.70" x2="341.40" y2="230.70" stroke="#000" stroke-width="2.0"/>
<circle cx="338.50" cy="224.90" r="1.95" fill="#000"/>
<rect x="394.60" y="162.60" width="103.20" height="100.30" fill="#adadad"/>
<line x1="366.50" y1="164.20" x2="366.50" y2="263.80" stroke="#000" stroke-width="1.7"/>
<line x1="363.30" y1="262.90" x2="366.50" y2="262.90" stroke="#000" stroke-width="1.5"/>
<text x="362.00" y="265.90" font-size="7" text-anchor="end" font-weight="bold" >0</text>
<line x1="363.30" y1="243.30" x2="366.50" y2="243.30" stroke="#000" stroke-width="1.5"/>
<text x="362.00" y="246.30" font-size="7" text-anchor="end" font-weight="bold" >2</text>
<line x1="363.30" y1="223.70" x2="366.50" y2="223.70" stroke="#000" stroke-width="1.5"/>
<text x="362.00" y="226.70" font-size="7" text-anchor="end" font-weight="bold" >4</text>
<line x1="363.30" y1="204.10" x2="366.50" y2="204.10" stroke="#000" stroke-width="1.5"/>
<text x="362.00" y="207.10" font-size="7" text-anchor="end" font-weight="bold" >6</text>
<line x1="363.30" y1="184.50" x2="366.50" y2="184.50" stroke="#000" stroke-width="1.5"/>
<text x="362.00" y="187.50" font-size="7" text-anchor="end" font-weight="bold" >8</text>
<line x1="363.30" y1="164.80" x2="366.50" y2="164.80" stroke="#000" stroke-width="1.5"/>
<text x="362.00" y="167.80" font-size="7" text-anchor="end" font-weight="bold" >10</text>
<line x1="365.65" y1="262.90" x2="479.10" y2="262.90" stroke="#000" stroke-width="1.8"/>
<line x1="486.70" y1="262.90" x2="514.80" y2="262.90" stroke="#000" stroke-width="1.8"/>
<line x1="479.10" y1="260.90" x2="479.10" y2="264.90" stroke="#000" stroke-width="1.2"/>
<line x1="486.70" y1="260.90" x2="486.70" y2="264.90" stroke="#000" stroke-width="1.2"/>
<line x1="372.20" y1="262.90" x2="372.20" y2="266.60" stroke="#000" stroke-width="1.5"/>
<text x="372.20" y="274.50" font-size="7" text-anchor="middle" font-weight="bold" >-20</text>
<line x1="394.60" y1="262.90" x2="394.60" y2="266.60" stroke="#000" stroke-width="1.5"/>
<text x="394.60" y="274.50" font-size="7" text-anchor="middle" font-weight="bold" >0</text>
<line x1="417.10" y1="262.90" x2="417.10" y2="266.60" stroke="#000" stroke-width="1.5"/>
<text x="417.10" y="274.50" font-size="7" text-anchor="middle" font-weight="bold" >20</text>
<line x1="439.60" y1="262.90" x2="439.60" y2="266.60" stroke="#000" stroke-width="1.5"/>
<text x="439.60" y="274.50" font-size="7" text-anchor="middle" font-weight="bold" >40</text>
<line x1="462.10" y1="262.90" x2="462.10" y2="266.60" stroke="#000" stroke-width="1.5"/>
<text x="462.10" y="274.50" font-size="7" text-anchor="middle" font-weight="bold" >60</text>
<line x1="492.20" y1="262.90" x2="492.20" y2="266.60" stroke="#000" stroke-width="1.5"/>
<text x="492.20" y="274.50" font-size="7" text-anchor="middle" font-weight="bold" >100</text>
<line x1="514.70" y1="262.90" x2="514.70" y2="266.60" stroke="#000" stroke-width="1.5"/>
<text x="514.70" y="274.50" font-size="7" text-anchor="middle" font-weight="bold" >200</text>
<path d="M370.90,226.40 L418.60,206.20 L480.70,214.60" fill="none" stroke="#000" stroke-width="1.6" stroke-linejoin="round"/>
<path d="M483.90,214.60 L496.10,215.10 L510.20,192.40" fill="none" stroke="#000" stroke-width="1.6" stroke-linejoin="round"/>
<line x1="370.90" y1="221.40" x2="370.90" y2="231.90" stroke="#000" stroke-width="1.9"/>
<line x1="368.00" y1="221.40" x2="373.80" y2="221.40" stroke="#000" stroke-width="2.0"/>
<line x1="368.00" y1="231.90" x2="373.80" y2="231.90" stroke="#000" stroke-width="2.0"/>
<circle cx="370.90" cy="226.40" r="1.95" fill="#000"/>
<line x1="418.60" y1="199.50" x2="418.60" y2="213.00" stroke="#000" stroke-width="1.9"/>
<line x1="415.70" y1="199.50" x2="421.50" y2="199.50" stroke="#000" stroke-width="2.0"/>
<line x1="415.70" y1="213.00" x2="421.50" y2="213.00" stroke="#000" stroke-width="2.0"/>
<circle cx="418.60" cy="206.20" r="1.95" fill="#000"/>
<line x1="496.10" y1="201.20" x2="496.10" y2="229.80" stroke="#000" stroke-width="1.9"/>
<line x1="493.20" y1="201.20" x2="499.00" y2="201.20" stroke="#000" stroke-width="2.0"/>
<line x1="493.20" y1="229.80" x2="499.00" y2="229.80" stroke="#000" stroke-width="2.0"/>
<circle cx="496.10" cy="215.10" r="1.95" fill="#000"/>
<line x1="510.20" y1="184.60" x2="510.20" y2="200.50" stroke="#000" stroke-width="1.9"/>
<line x1="507.30" y1="184.60" x2="513.10" y2="184.60" stroke="#000" stroke-width="2.0"/>
<line x1="507.30" y1="200.50" x2="513.10" y2="200.50" stroke="#000" stroke-width="2.0"/>
<circle cx="510.20" cy="192.40" r="1.95" fill="#000"/>
<line x1="25.00" y1="28.50" x2="144.60" y2="28.50" stroke="#000" stroke-width="2"/>
<line x1="50.00" y1="35.00" x2="144.60" y2="35.00" stroke="#000" stroke-width="2"/>
<line x1="26.50" y1="45.10" x2="74.60" y2="45.10" stroke="#000" stroke-width="2"/>
<line x1="50.00" y1="52.50" x2="74.60" y2="52.50" stroke="#000" stroke-width="2"/>
<text x="84.90" y="28.20" font-size="6" text-anchor="middle" font-weight="bold" stroke="#000" stroke-width="0.3">**</text>
<text x="97.00" y="35.00" font-size="6" text-anchor="middle" font-weight="bold" stroke="#000" stroke-width="0.3">**</text>
<text x="50.40" y="44.40" font-size="6" text-anchor="middle" font-weight="bold" stroke="#000" stroke-width="0.3">*</text>
<text x="62.30" y="51.40" font-size="6" text-anchor="middle" font-weight="bold" stroke="#000" stroke-width="0.3">**</text>
<text x="-0.20" y="10.20" font-size="14" text-anchor="start" font-weight="bold" >A</text>
<text x="171.20" y="9.90" font-size="14" text-anchor="start" font-weight="bold" >B</text>
<text x="345.80" y="10.10" font-size="14" text-anchor="start" font-weight="bold" >C</text>
<text x="0.30" y="156.50" font-size="14" text-anchor="start" font-weight="bold" >D</text>
<text x="171.20" y="156.70" font-size="14" text-anchor="start" font-weight="bold" >E</text>
<text x="345.60" y="156.90" font-size="14" text-anchor="start" font-weight="bold" >F</text>
<text x="94.80" y="17.70" font-size="11" text-anchor="middle" font-weight="bold" >PBMC</text>
<text x="266.20" y="17.70" font-size="11" text-anchor="middle" font-weight="bold" >RB</text>
<text x="441.70" y="17.80" font-size="11" text-anchor="middle" font-weight="bold" >LN</text>
<text x="97.95" y="284.70" font-size="8.2" text-anchor="middle" font-weight="bold" >Treatment Day</text>
<text x="269.20" y="284.90" font-size="8.2" text-anchor="middle" font-weight="bold" >Treatment Day</text>
<text x="440.35" y="284.90" font-size="8.2" text-anchor="middle" font-weight="bold" >Treatment Day</text>
<text transform="translate(6.3,74.4) rotate(-90)" font-size="8" font-weight="bold" text-anchor="middle">% Ki67+ CD8 T cells</text>
<text transform="translate(6.5,213.4) rotate(-90)" font-size="8" font-weight="bold" text-anchor="middle">% Ki67+ CD4 T cells</text>
</svg>
</body></html>
